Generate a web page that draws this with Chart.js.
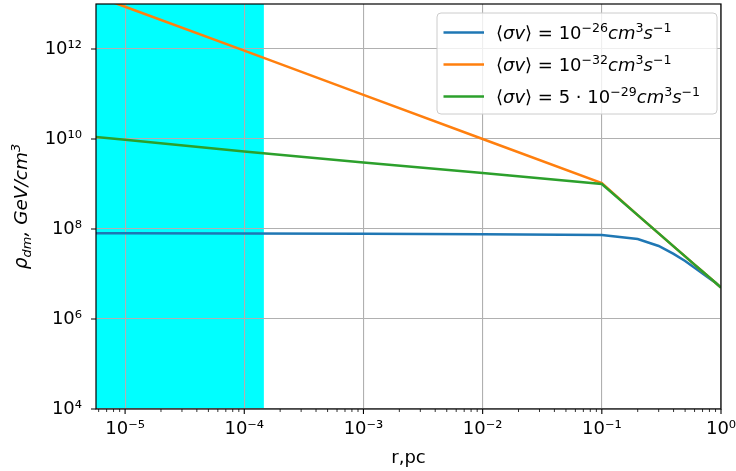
<!DOCTYPE html>
<html>
<head>
<meta charset="utf-8">
<script src="https://cdn.jsdelivr.net/npm/chart.js@4.4.1/dist/chart.umd.min.js"></script>
<style>
  html, body { margin: 0; padding: 0; background: #fff; }
  #wrap { width: 736px; height: 471px; }
</style>
</head>
<body>
<div id="wrap"><canvas id="densityChart"></canvas></div>
<script>
// radius, pc
const radius = [5e-6, 1e-5, 1e-4, 1e-3, 1e-2, 1e-1, 0.2, 0.3, 0.4, 0.5, 0.6, 0.7, 0.8, 0.9, 1.0];
// dark matter density, GeV/cm^3
const rhoSv26 = [8.1e7, 8.05e7, 7.95e7, 7.8e7, 7.6e7, 7.4e7, 6.0e7, 4.2e7, 2.8e7, 1.95e7, 1.38e7, 1.03e7, 8.0e6, 6.4e6, 5.0e6];
const rhoSv32 = [1.7e13, 8.7e12, 9.2e11, 9.6e10, 1.0e10, 1.05e9, 2.03e8, 8.0e7, 4.1e7, 2.47e7, 1.62e7, 1.14e7, 8.4e6, 6.4e6, 5.0e6];
const rhoSv29 = [1.15e10, 9.6e9, 5.3e9, 3.0e9, 1.75e9, 1.0e9, 2.03e8, 8.0e7, 4.1e7, 2.47e7, 1.62e7, 1.14e7, 8.4e6, 6.4e6, 5.0e6];

const seriesLabels = ["⟨σv⟩ = 10⁻²⁶cm³s⁻¹", "⟨σv⟩ = 10⁻³²cm³s⁻¹", "⟨σv⟩ = 5·10⁻²⁹cm³s⁻¹"];
const seriesColors = ["#1f77b4", "#ff7f0e", "#2ca02c"];

const xTicks = [1e-5, 1e-4, 1e-3, 1e-2, 1e-1, 1];
const yTicks = [1e4, 1e6, 1e8, 1e10, 1e12];
const xRange = [5.7e-6, 1];
const yRange = [1e4, 1e13];
const shadeRange = [5.7e-6, 1.46e-4];

// rich text pieces: n = normal, i = italic, s = superscript, si = italic superscript, b = italic subscript
const legendParts = [
  [["⟨", "n"], ["σv", "i"], ["⟩ = 10", "n"], ["−26", "s"], ["cm", "i"], ["3", "s"], ["s", "i"], ["−1", "s"]],
  [["⟨", "n"], ["σv", "i"], ["⟩ = 10", "n"], ["−32", "s"], ["cm", "i"], ["3", "s"], ["s", "i"], ["−1", "s"]],
  [["⟨", "n"], ["σv", "i"], ["⟩ = 5 · 10", "n"], ["−29", "s"], ["cm", "i"], ["3", "s"], ["s", "i"], ["−1", "s"]],
];
const yTitleParts = [["ρ", "i"], ["dm", "b"], [", GeV/cm", "i"], ["3", "si"]];

const FONT = '"DejaVu Sans"';
const SUP = { "-": "⁻", "0": "⁰", "1": "¹", "2": "²", "3": "³", "4": "⁴", "5": "⁵", "6": "⁶", "7": "⁷", "8": "⁸", "9": "⁹" };
const powerLabel = (v) => "10" + String(Math.round(Math.log10(v))).split("").map((c) => SUP[c]).join("");

function drawRich(ctx, parts, x, y, size) {
  parts.forEach(([txt, style]) => {
    const small = style === "s" || style === "si" || style === "b";
    const fs = small ? size * 0.7 : size;
    const italic = style === "i" || style === "si" || style === "b";
    ctx.font = (italic ? "italic " : "") + fs + "px " + FONT;
    let dy = 0;
    if (style === "s" || style === "si") dy = -size * 0.4;
    if (style === "b") dy = size * 0.2;
    ctx.fillText(txt, x, y + dy);
    x += ctx.measureText(txt).width;
  });
  return x;
}

function richWidth(ctx, parts, size) {
  ctx.save();
  const w = drawRich({ fillText() {}, measureText: (t) => ctx.measureText(t), set font(f) { ctx.font = f; } }, parts, 0, 0, size);
  ctx.restore();
  return w;
}

// cyan band under the grid
const shadePlugin = {
  id: "shade",
  beforeDraw(chart) {
    const { ctx, chartArea, scales } = chart;
    const x0 = scales.x.getPixelForValue(shadeRange[0]);
    const x1 = scales.x.getPixelForValue(shadeRange[1]);
    ctx.save();
    ctx.fillStyle = "#00ffff";
    ctx.fillRect(x0, chartArea.top, x1 - x0, chartArea.bottom - chartArea.top);
    ctx.restore();
  },
};

// frame, tick marks, y title and legend
const decorPlugin = {
  id: "decor",
  afterDraw(chart) {
    const { ctx, chartArea, scales } = chart;
    const { left, right, top, bottom } = chartArea;
    ctx.save();
    ctx.strokeStyle = "#000";

    // x ticks, major and minor
    ctx.lineWidth = 1.1;
    ctx.beginPath();
    xTicks.forEach((v) => {
      const px = scales.x.getPixelForValue(v);
      ctx.moveTo(px, bottom);
      ctx.lineTo(px, bottom + 5);
    });
    ctx.stroke();
    ctx.lineWidth = 0.8;
    ctx.beginPath();
    for (let e = -6; e < 0; e++) {
      for (let m = 2; m <= 9; m++) {
        const v = m * Math.pow(10, e);
        if (v < xRange[0] || v > xRange[1]) continue;
        const px = scales.x.getPixelForValue(v);
        ctx.moveTo(px, bottom);
        ctx.lineTo(px, bottom + 3);
      }
    }
    ctx.stroke();

    // y ticks
    ctx.lineWidth = 1.1;
    ctx.beginPath();
    yTicks.forEach((v) => {
      const py = scales.y.getPixelForValue(v);
      ctx.moveTo(left, py);
      ctx.lineTo(left - 5, py);
    });
    ctx.stroke();

    // frame
    ctx.lineWidth = 1.2;
    ctx.strokeRect(left, top, right - left, bottom - top);

    // y axis title
    ctx.fillStyle = "#000";
    ctx.textBaseline = "alphabetic";
    ctx.textAlign = "left";
    const tSize = 18.5;
    const tw = richWidth(ctx, yTitleParts, tSize);
    ctx.save();
    ctx.translate(27, (top + bottom) / 2);
    ctx.rotate(-Math.PI / 2);
    drawRich(ctx, yTitleParts, -tw / 2, 0, tSize);
    ctx.restore();

    // legend
    const lx = right - 284, ly = top + 9, lw = 280, lh = 101;
    ctx.beginPath();
    ctx.roundRect(lx, ly, lw, lh, 4);
    ctx.fillStyle = "rgba(255,255,255,0.8)";
    ctx.fill();
    ctx.strokeStyle = "#cccccc";
    ctx.lineWidth = 1;
    ctx.stroke();
    legendParts.forEach((parts, i) => {
      const cy = ly + 19.5 + i * 32;
      ctx.strokeStyle = seriesColors[i];
      ctx.lineWidth = 2.5;
      ctx.beginPath();
      ctx.moveTo(lx + 6.5, cy);
      ctx.lineTo(lx + 47, cy);
      ctx.stroke();
      ctx.fillStyle = "#000";
      drawRich(ctx, parts, lx + 59, cy + 6.5, 18);
    });
    ctx.restore();
  },
};

const makeSeries = (label, values, color, order) => ({
  label: label,
  data: radius.map((r, i) => ({ x: r, y: values[i] })),
  borderColor: color,
  backgroundColor: color,
  borderWidth: 2.5,
  pointRadius: 0,
  tension: 0,
  clip: 0,
  order: order,
});

new Chart(document.getElementById("densityChart"), {
  type: "line",
  data: {
    datasets: [
      makeSeries(seriesLabels[0], rhoSv26, seriesColors[0], 3),
      makeSeries(seriesLabels[1], rhoSv32, seriesColors[1], 2),
      makeSeries(seriesLabels[2], rhoSv29, seriesColors[2], 1),
    ],
  },
  options: {
    responsive: true,
    maintainAspectRatio: false,
    animation: false,
    layout: { padding: { top: 4, right: 15, left: 0, bottom: 0 } },
    plugins: {
      legend: { display: false },
      tooltip: { enabled: false },
    },
    scales: {
      x: {
        type: "logarithmic",
        min: xRange[0],
        max: xRange[1],
        afterBuildTicks: (scale) => { scale.ticks = xTicks.map((v) => ({ value: v })); },
        afterFit: (scale) => {
          scale.height = 62;
          scale.paddingLeft = 0;
          scale.paddingRight = 0;
        },
        ticks: {
          autoSkip: false,
          maxRotation: 0,
          padding: 10,
          color: "#000",
          font: { family: FONT, size: 18 },
          callback: (v) => powerLabel(v),
        },
        grid: { color: "#b0b0b0", lineWidth: 1.1, drawTicks: false },
        border: { display: false },
        title: {
          display: true,
          text: "r,pc",
          color: "#000",
          font: { family: FONT, size: 18 },
          padding: { top: 4, bottom: 2 },
        },
      },
      y: {
        type: "logarithmic",
        min: yRange[0],
        max: yRange[1],
        afterBuildTicks: (scale) => { scale.ticks = yTicks.map((v) => ({ value: v })); },
        afterFit: (scale) => {
          scale.width = 96;
          scale.paddingTop = 0;
          scale.paddingBottom = 0;
        },
        ticks: {
          autoSkip: false,
          padding: 14,
          color: "#000",
          font: { family: FONT, size: 18 },
          callback: (v) => powerLabel(v),
        },
        grid: { color: "#b0b0b0", lineWidth: 1.1, drawTicks: false },
        border: { display: false },
      },
    },
  },
  plugins: [shadePlugin, decorPlugin],
});
</script>
</body>
</html>
